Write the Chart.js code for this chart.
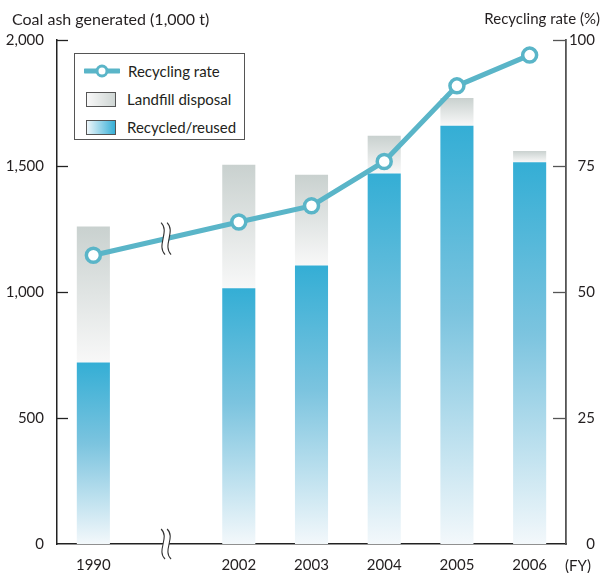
<!DOCTYPE html>
<html>
<head>
<meta charset="utf-8">
<script src="https://cdn.jsdelivr.net/npm/chart.js@4/dist/chart.umd.min.js"></script>
<style>
  html, body { margin: 0; padding: 0; background: #fff; }
  #wrap { position: relative; width: 607px; height: 573px; font-family: "Lato", "Open Sans", sans-serif; color: #231F20; }
  canvas { position: absolute; left: 0; top: 0; }
  .t { position: absolute; font-size: 15px; white-space: nowrap; line-height: 1; }
  #legend { position: absolute; left: 74px; top: 53px; width: 171px; height: 87px; border: 1px solid #555; background: #fff; box-sizing: border-box; }
  .row { position: absolute; left: 0; height: 20px; display: flex; align-items: center; font-size: 15px; }
  .sw { width: 30px; height: 15px; border: 1px solid #555; box-sizing: border-box; margin-left: 11px; margin-right: 11px; }
</style>
</head>
<body>
<div id="wrap">
  <canvas id="c" width="607" height="573"></canvas>
  <div class="t" id="tl" style="left:12px; top:11px; font-size:16px;"></div>
  <div class="t" id="tr" style="right:7px; top:11px;"></div>
  <div class="t" id="fy" style="left:565px; top:558px;">(FY)</div>
  <div id="legend"></div>
</div>
<script>
// ---- data ----
const categories = ['1990', '', '2002', '2003', '2004', '2005', '2006'];
const recycled   = [720, null, 1015, 1105, 1470, 1660, 1515];
const landfill   = [540, null, 490, 360, 150, 110, 45];
const recyclingRate = [57.3, null, 63.9, 67.1, 75.9, 90.9, 97.0];
const leftTicks = [0, 500, 1000, 1500, 2000];
const rightTicks = [0, 25, 50, 75, 100];
const leftTitle = 'Coal ash generated (1,000 t)';
const rightTitle = 'Recycling rate (%)';
const seriesNames = ['Recycling rate', 'Landfill disposal', 'Recycled/reused'];

const LINE = '#5AB5C8';
document.getElementById('tl').textContent = leftTitle;
document.getElementById('tr').textContent = rightTitle;

// legend (HTML)
const lg = document.getElementById('legend');
lg.innerHTML =
  '<div class="row" style="top:7px"><svg width="36" height="16" style="margin-left:9px;margin-right:8px"><line x1="1" y1="8" x2="35" y2="8" stroke="'+LINE+'" stroke-width="5" stroke-linecap="round"/><circle cx="18" cy="8" r="5" fill="#fff" stroke="'+LINE+'" stroke-width="3"/></svg><span>'+seriesNames[0]+'</span></div>' +
  '<div class="row" style="top:35px"><div class="sw" style="background:linear-gradient(to right,#f8f8f8,#cfd6d4)"></div><span>'+seriesNames[1]+'</span></div>' +
  '<div class="row" style="top:63px"><div class="sw" style="background:linear-gradient(to right,#eef6fa,#36afd6)"></div><span>'+seriesNames[2]+'</span></div>';

function barGrad(kind) {
  return function(ctx) {
    const fallback = kind === 'rec' ? '#6fc0dd' : '#e3e7e6';
    const chart = ctx.chart;
    if (!chart.chartArea || ctx.dataIndex === undefined) return fallback;
    const i = ctx.dataIndex;
    if (recycled[i] == null) return fallback;
    const y = chart.scales.y;
    let top, bot;
    if (kind === 'rec') { top = y.getPixelForValue(recycled[i]); bot = y.getPixelForValue(0); }
    else { top = y.getPixelForValue(recycled[i] + landfill[i]); bot = y.getPixelForValue(recycled[i]); }
    if (!isFinite(top) || !isFinite(bot)) return fallback;
    const g = chart.ctx.createLinearGradient(0, top, 0, bot);
    if (kind === 'rec') {
      g.addColorStop(0, '#34aed5');
      g.addColorStop(0.45, '#7cc4df');
      g.addColorStop(1, '#f3f8fb');
    } else {
      g.addColorStop(0, '#c9d1cf');
      g.addColorStop(1, '#f8f8f8');
    }
    return g;
  };
}

function squiggle(c, x, y, h) {
  c.beginPath();
  c.moveTo(x - 2, y - h);
  c.bezierCurveTo(x + 7, y - h * 0.45, x - 7, y + h * 0.45, x + 2, y + h);
  c.stroke();
}
function breakMark(c, x, y, h) {
  c.save();
  c.fillStyle = '#fff';
  c.beginPath();
  c.moveTo(x - 5, y - h);
  c.bezierCurveTo(x + 4, y - h * 0.45, x - 10, y + h * 0.45, x - 1, y + h);
  c.lineTo(x + 5, y + h);
  c.bezierCurveTo(x - 4, y + h * 0.45, x + 10, y - h * 0.45, x + 1, y - h);
  c.closePath();
  c.fill();
  c.strokeStyle = '#333';
  c.lineWidth = 1.1;
  squiggle(c, x - 3, y, h);
  squiggle(c, x + 3, y, h);
  c.restore();
}

const decor = {
  id: 'decor',
  beforeDraw(chart) {
    const c = chart.ctx;
    c.save(); c.fillStyle = '#fff'; c.fillRect(0, 0, chart.width, chart.height); c.restore();
  },
  afterDraw(chart) {
    const c = chart.ctx, a = chart.chartArea;
    const y = chart.scales.y, y2 = chart.scales.y2, x = chart.scales.x;
    c.save();
    c.lineWidth = 1.3;
    c.strokeStyle = '#222';
    leftTicks.forEach(v => { if (v === 0) return; const py = Math.round(y.getPixelForValue(v)) + 0.5; c.beginPath(); c.moveTo(a.left, py); c.lineTo(a.left + 11, py); c.stroke(); });
    c.strokeStyle = '#555';
    rightTicks.forEach(v => { if (v === 0) return; const py = Math.round(y2.getPixelForValue(v)) + 0.5; c.beginPath(); c.moveTo(a.right - 13, py); c.lineTo(a.right, py); c.stroke(); });
    c.restore();
    // break marks at the gap category
    const gx = x.getPixelForValue(1);
    const meta = chart.getDatasetMeta(0);
    const p0 = meta.data[0], p2 = meta.data[2];
    const ly = p0.y + (p2.y - p0.y) * (gx - p0.x) / (p2.x - p0.x);
    breakMark(c, gx, ly, 16);
    breakMark(c, gx, a.bottom, 15);
  }
};

new Chart(document.getElementById('c'), {
  data: {
    labels: categories,
    datasets: [
      { type: 'line', label: seriesNames[0], data: recyclingRate, yAxisID: 'y2', order: 0,
        borderColor: LINE, borderWidth: 5, spanGaps: true, tension: 0,
        pointRadius: 7, pointBorderWidth: 3.5, pointBackgroundColor: '#fff', pointBorderColor: LINE },
      { type: 'bar', label: seriesNames[2], data: recycled, yAxisID: 'y', order: 1,
        backgroundColor: barGrad('rec'), borderWidth: 0, barPercentage: 0.455, categoryPercentage: 1 },
      { type: 'bar', label: seriesNames[1], data: landfill, yAxisID: 'y', order: 2,
        backgroundColor: barGrad('land'), borderWidth: 0, barPercentage: 0.455, categoryPercentage: 1 }
    ]
  },
  options: {
    responsive: false,
    animation: false,
    devicePixelRatio: 1,
    layout: { padding: { left: 0, right: 12, top: 40, bottom: 0 } },
    plugins: { legend: { display: false }, tooltip: { enabled: false } },
    scales: {
      x: {
        stacked: true, offset: true,
        grid: { display: false, drawTicks: false },
        border: { display: true, color: '#222', width: 1.5 },
        ticks: { padding: 12, color: '#231F20', font: { family: 'Lato', size: 15 } },
        afterFit(s) { s.height = 29; }
      },
      y: {
        stacked: true, position: 'left', min: 0, max: 2000,
        afterBuildTicks(s) { s.ticks = leftTicks.map(v => ({ value: v })); },
        grid: { display: false, drawTicks: false },
        border: { display: true, color: '#222', width: 1.5 },
        ticks: { padding: 13, color: '#231F20', font: { family: 'Lato', size: 15 } },
        afterFit(s) { s.width = 57; }
      },
      y2: {
        position: 'right', min: 0, max: 100,
        afterBuildTicks(s) { s.ticks = rightTicks.map(v => ({ value: v })); },
        grid: { display: false, drawTicks: false },
        border: { display: true, color: '#555', width: 1.8 },
        ticks: { padding: 8, crossAlign: 'far', color: '#231F20', font: { family: 'Lato', size: 15 } },
        afterFit(s) { s.width = 29; }
      }
    }
  },
  plugins: [decor]
});
</script>
</body>
</html>
